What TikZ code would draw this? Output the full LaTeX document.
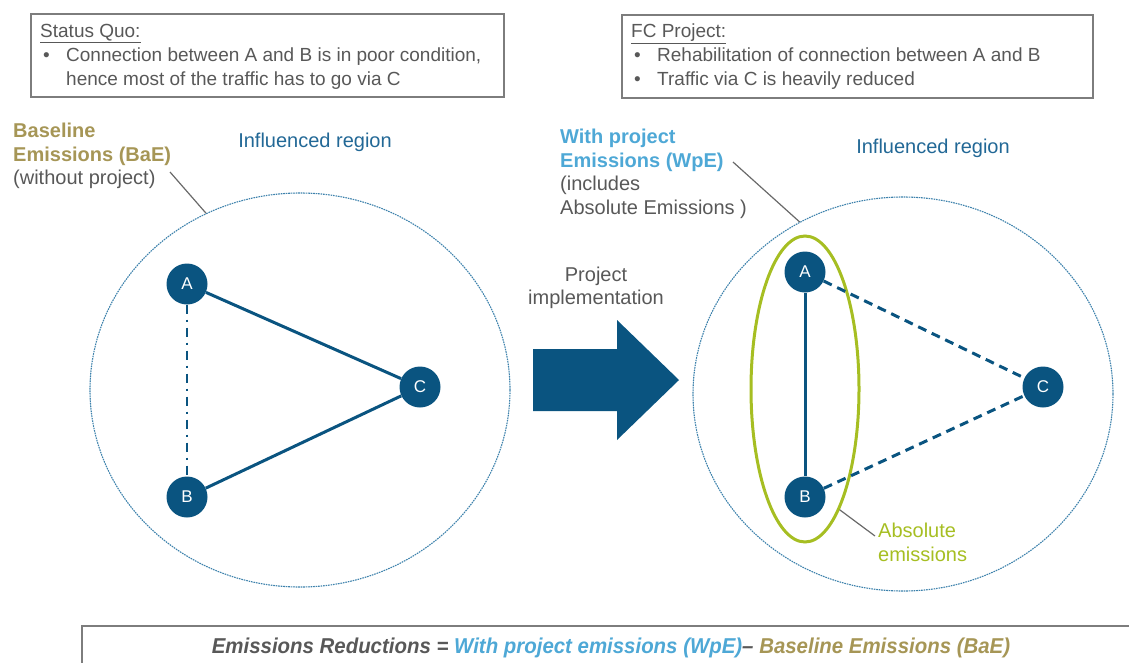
\documentclass[tikz,border=0pt]{standalone}
\usepackage{fontspec}
\setmainfont{Liberation Sans}
\newfontfamily\narrowfont[FakeStretch=0.95]{Liberation Sans}
\usetikzlibrary{shapes.geometric}

\definecolor{nodeblue}{RGB}{10,84,128}
\definecolor{regionblue}{RGB}{62,130,172}
\definecolor{titleblue}{RGB}{34,104,150}
\definecolor{wpeblue}{RGB}{78,168,214}
\definecolor{baeolive}{RGB}{166,150,86}
\definecolor{limegreen}{RGB}{166,190,34}
\definecolor{textgray}{RGB}{88,88,88}
\definecolor{leadgray}{RGB}{105,105,105}
\definecolor{boxgray}{RGB}{125,125,125}

\begin{document}
\begin{tikzpicture}[x=1pt,y=-1pt,
  every node/.style={font=\fontsize{20}{23.5}\selectfont},
  infobox/.style={draw=boxgray, line width=1.6, inner sep=0, anchor=north west},
  boxtext/.style={anchor=north west, align=left, inner sep=0, text=textgray,
    font=\fontsize{19}{24}\selectfont},
  region/.style={ellipse, draw=regionblue, line width=1.1,
    dash pattern=on 1.6pt off 0.9pt, minimum width=420, minimum height=394, inner sep=0},
  city/.style={circle, fill=nodeblue, text=white, minimum size=41, inner sep=0,
    font=\fontsize{17}{17}\selectfont},
  link/.style={draw=nodeblue, line width=3},
  weaklink/.style={draw=nodeblue, line width=2.6, dash pattern=on 9pt off 6pt on 2pt off 6pt},
  dashlink/.style={draw=nodeblue, line width=3, dash pattern=on 9pt off 6pt},
  leader/.style={draw=leadgray, line width=1.2},
  regtitle/.style={text=titleblue},
  label/.style={anchor=north west, align=left, inner sep=0},
]
\useasboundingbox (0,0) rectangle (1129,662);

% ---- explanation boxes at the top
\node[infobox, minimum width=473, minimum height=83] (sqbox) at (30,13) {};
\node[boxtext] (sqtext) at (40,24) {\underline{Status Quo:}\\
  \makebox[26pt][l]{\hspace{3pt}\textbullet}Connection between A and B is in poor condition,\\
  \hspace*{26pt}hence most of the traffic has to go via C};

\node[infobox, minimum width=471, minimum height=83] (fcbox) at (621,14) {};
\node[boxtext] (fctext) at (631,24) {\underline{FC Project:}\\
  \makebox[26pt][l]{\hspace{3pt}\textbullet}Rehabilitation of connection between A and B\\
  \makebox[26pt][l]{\hspace{3pt}\textbullet}Traffic via C is heavily reduced};

% ---- baseline situation
\node[region] (regL) at (300,390) {};
\node[regtitle] (titleL) at (315,142) {Influenced region};
\node[label] (bae) at (13,123) {\textcolor{baeolive}{\bfseries Baseline}\\
  \textcolor{baeolive}{\bfseries Emissions (BaE)}\\
  \textcolor{textgray}{(without project)}};
\coordinate (baetip) at (170,172);
\draw[leader] (baetip) -- (regL.118);

\node[city] (la) at (187,284) {A};
\node[city] (lb) at (187,497) {B};
\node[city] (lc) at (420,387) {C};
\draw[weaklink] (la) -- (lb);
\draw[link] (la) -- (lc);
\draw[link] (lb) -- (lc);

% ---- transition arrow
\node[align=center, text=textgray] (impl) at (596,288) {Project\\implementation};
\fill[nodeblue] (533,349) -- (617,349) -- (617,320) -- (679,380) -- (617,440)
  -- (617,411) -- (533,411) -- cycle;

% ---- situation with project
\node[region] (regR) at (903,394) {};
\node[regtitle] (titleR) at (933,148) {Influenced region};
\node[label] (wpe) at (560,129) {\textcolor{wpeblue}{\bfseries With project}\\
  \textcolor{wpeblue}{\bfseries Emissions (WpE)}\\
  \textcolor{textgray}{(includes}\\
  \textcolor{textgray}{Absolute Emissions )}};
\coordinate (wpetip) at (733,162);
\draw[leader] (wpetip) -- (regR.121);

\node[ellipse, draw=limegreen, line width=3, minimum width=108, minimum height=306,
  inner sep=0] (abs) at (805,389) {};
\node[city] (ra) at (805,272) {A};
\node[city] (rb) at (805,497) {B};
\node[city] (rc) at (1043,387) {C};
\draw[link] (ra) -- (rb);
\draw[dashlink] (ra) -- (rc);
\draw[dashlink] (rb) -- (rc);

\node[label, text=limegreen] (abslbl) at (878,523) {Absolute\\emissions};
\coordinate (abstip) at (875,536);
\draw[leader] (abs.-74) -- (abstip);

% ---- formula box at the bottom
\node[infobox, minimum width=1100, minimum height=70] (formbox) at (81,625) {};
\node[font=\narrowfont\bfseries\itshape\fontsize{21.5}{21.5}\selectfont] (formula) at (611,648)
  {\textcolor{textgray}{Emissions Reductions =} \textcolor{wpeblue}{With project emissions (WpE)}\textcolor{textgray}{–\ }\textcolor{baeolive}{Baseline Emissions (BaE)}};
\end{tikzpicture}
\end{document}
